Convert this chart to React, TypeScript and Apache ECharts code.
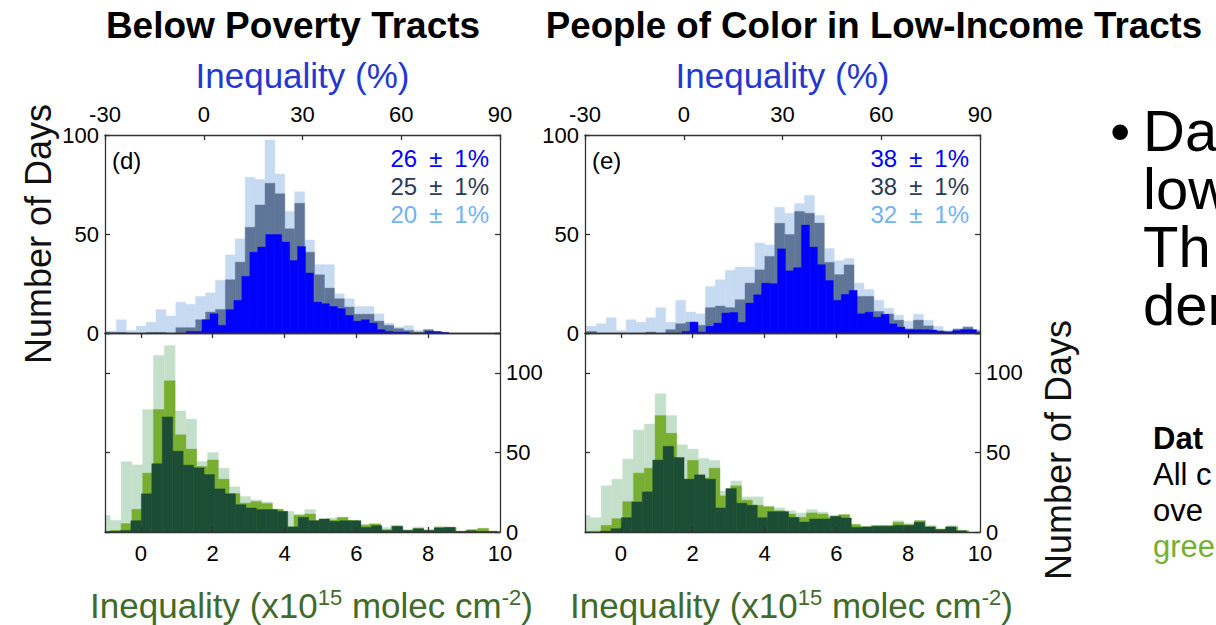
import React, { useEffect, useRef } from "react";
import * as echarts from "echarts";

// ---------------- data ----------------
// top histograms: inequality in percent
const pctTicks = [-30, 0, 30, 60, 90];
const countTicksTop = [0, 50, 100];
// bins used by the light-blue and slate series
const pctBinStart = -29.55;
const pctBinWidth = 3.01;
// bins used by the blue series
const pctBlueBinStart = -5.35;
const pctBlueBinWidth = 2.418;

const dTopLight = [1.0, 6.7, 1.3, 3.5, 5.5, 11.8, 8.6, 15.6, 14.5, 18.5, 20.3, 26.6, 39.5, 47.6, 78.7, 77.5, 97.5, 80.3, 61.5, 71.4, 47, 34.5, 34.5, 19.8, 17.3, 13.4, 13.4, 9.7, 5, 3, 3.7, 1.3, 1.3, 0.5, 0, 0, 0, 0, 0, 0];
const dTopSlate = [0.3, 0.3, 0, 0, 0.3, 0.3, 0, 2.7, 2.7, 6.7, 10.6, 11.9, 26.9, 35.8, 53.4, 64.7, 75.6, 70.3, 52.6, 65.5, 40.8, 29.4, 22.7, 17.3, 13.1, 9.5, 9.5, 6, 3.9, 2.2, 1.3, 0.5, 1.7, 0.5, 0, 0, 0, 0, 0, 0];
const dTopBlue = [0.8, 0.8, 6.7, 9.7, 3.9, 11.8, 16.5, 28.6, 40.8, 43.4, 49.7, 49.7, 45.9, 36.6, 43.7, 30.3, 15.6, 14.8, 13.4, 12.3, 8.9, 6.0, 6.7, 5.0, 1.7, 0.8, 0.5, 0.5, 0, 0, 0.8, 0.8, 0.3, 0, 0, 0, 0, 0, 0];

const eTopLight = [3.5, 4.7, 7.7, 1.3, 6.7, 5.5, 7.7, 12.8, 5.5, 16.5, 10.6, 9.7, 23.5, 26.9, 31.6, 33.3, 33.3, 45.4, 44.5, 63.5, 60.5, 65.4, 69.4, 59.3, 42.7, 36.5, 37.6, 25.2, 22, 16.5, 12.5, 9, 6, 9.5, 6.5, 3.4, 1.3, 2.1, 3.4, 1.7];
const eTopSlate = [0.8, 0, 0, 0, 0, 0, 0.5, 0, 1.7, 4.7, 5.5, 3.9, 12.8, 13.6, 12.8, 16.8, 25.2, 31.9, 38.7, 55.4, 49.8, 61.4, 60.5, 55.5, 35.7, 29.5, 34.4, 18.5, 18.5, 10.9, 9.6, 6.5, 2.1, 6.5, 3.6, 1.2, 0.8, 2, 2.9, 1];
const eTopBlue = [0, 0, 0.8, 5.5, 0.5, 3.4, 5, 10.1, 10.4, 5.4, 15.1, 19.3, 25.2, 24.9, 42.5, 31.4, 33, 54.5, 43.4, 34.5, 26.5, 16.5, 19.5, 21.5, 9.7, 10.5, 8, 9.4, 4.6, 3, 1.7, 1.7, 1.7, 1.5, 0.8, 0.5, 1.2, 1.7, 1.7];

const dLegend = ["26\u2002\u00b1\u20021%", "25\u2002\u00b1\u20021%", "20\u2002\u00b1\u20021%"];
const eLegend = ["38\u2002\u00b1\u20021%", "38\u2002\u00b1\u20021%", "32\u2002\u00b1\u20021%"];

// bottom histograms: inequality in 10^15 molec cm^-2
const absTickLabels = [0, 2, 4, 6, 8, 10];
const absInnerTicks = [0, 2, 4, 6, 8];
const countTicksBottom = [0, 50, 100];
// bins used by the light and medium green series
const absBinStart = -1.155;
const absBinWidth = 0.301;
// bins used by the dark green series
const absDarkBinStart = -1.153;
const absDarkBinWidth = 0.2912;

const dBotLight = [10.5, 7.4, 44.1, 42.2, 76.9, 110.9, 117.2, 76, 71, 44.3, 50, 40.1, 28.4, 22.3, 20.2, 18.9, 14.3, 13, 11.2, 14.1, 7.1, 8.8, 9.2, 7.1, 5, 5.3, 2.9, 4.2, 1.5, 3.2, 1.5, 2.9, 2.9, 0.4, 1, 1.9, 0.4];
const dBotMedium = [0.4, 1, 5.3, 14.3, 37, 76.9, 95, 61.1, 52.1, 41.2, 45.2, 33.2, 24.2, 18.1, 19.1, 17.9, 14.3, 3.2, 10.5, 11.3, 7.1, 7.5, 9.2, 7.1, 4.2, 5, 1.5, 3.6, 1, 2.1, 1, 3.2, 2.9, 0.4, 1.5, 2.3, 0.4];
const dBotDark = [0.3, 0.5, 1, 7.1, 24, 42.9, 72.3, 50.8, 42, 40.3, 36.1, 27.1, 24, 17.2, 15.1, 14.1, 14.1, 13, 3.2, 9.2, 7.1, 8.2, 6.7, 7.1, 7.1, 2.9, 4, 1, 3.6, 1, 2.1, 1, 2.5, 2.9, 0.4, 0.8, 0.4, 0.4];

const eBotLight = [10.5, 9, 29, 33.2, 45.8, 64.1, 67.9, 86.8, 73.1, 54.8, 52.1, 46.2, 45, 25.8, 32.1, 22.1, 22.1, 16.3, 15.2, 13.4, 12, 14.1, 12.6, 10.5, 10.9, 5, 3.6, 4.2, 4.2, 7.1, 5.3, 7.1, 4.2, 1.9, 4, 1, 0];
const eBotMedium = [0.4, 0.6, 4.2, 8.4, 19.1, 37, 40.1, 73.1, 62, 33.2, 45, 34, 40.1, 22.7, 29, 20, 16.8, 15.8, 13.4, 11.3, 9.2, 12, 11.3, 9.2, 10.9, 4.6, 3.2, 4, 4, 6.1, 4.6, 7.1, 3.2, 1.9, 3.2, 0.8, 0];
const eBotDark = [0, 0, 0.6, 2.1, 9, 18.9, 25.2, 45.2, 53.8, 46.8, 33.2, 35.9, 33.2, 15.1, 27.3, 18.1, 16.8, 9, 12.8, 12.8, 9.2, 6.3, 8.2, 8.2, 9.9, 8.8, 2.9, 3.2, 3.6, 3.6, 4.2, 4.2, 6.1, 3.2, 1.5, 3.2, 0.8, 0];

// slide text on the right
const slideBulletLines = ["Da", "low", "Th", "der"];
const slideNoteLines = ["Dat", "All c", "ove", "gree"];

// ---------------- styles ----------------
const FONT = '"Liberation Sans", Arial, Helvetica, sans-serif';
const C_LIGHT_BLUE = "#c6daf2";
const C_SLATE = "#607699";
const C_BLUE = "#0000ff";
const C_LIGHT_GREEN = "#c4e0cb";
const C_MED_GREEN = "#78ae31";
const C_DARK_GREEN = "#1c4e36";
const C_FRAME = "#333333";
const C_TOP_TITLE = "#2438d0";
const C_BOT_TITLE = "#416a2b";

const frameLine = { lineStyle: { color: C_FRAME, width: 1.3 } };

function histSeries(
  xAxisIndex: number,
  yAxisIndex: number,
  start: number,
  width: number,
  values: number[],
  color: string,
  xmin: number,
  xmax: number
) {
  const data = values.map((v, i) => [start + i * width, start + (i + 1) * width, v]);
  return {
    type: "custom",
    xAxisIndex,
    yAxisIndex,
    data,
    encode: { x: [0, 1], y: 2 },
    silent: true,
    renderItem: (params: any, api: any) => {
      const x0 = Math.max(api.value(0), xmin);
      const x1 = Math.min(api.value(1), xmax);
      const v = api.value(2);
      if (x1 <= x0 || v <= 0) return null;
      const p0 = api.coord([x0, v]);
      const p1 = api.coord([x1, 0]);
      return {
        type: "rect",
        shape: { x: p0[0], y: p0[1], width: p1[0] - p0[0], height: p1[1] - p0[1] },
        style: { fill: color, stroke: color, lineWidth: 0.4 },
      };
    },
  };
}

function pctTopAxis(gridIndex: number) {
  return {
    gridIndex,
    type: "value",
    position: "top",
    min: pctTicks[0],
    max: pctTicks[pctTicks.length - 1],
    interval: 30,
    name: "Inequality (%)",
    nameLocation: "middle",
    nameGap: 42,
    nameTextStyle: { color: C_TOP_TITLE, fontSize: 35, fontFamily: FONT },
    axisLine: { show: true, onZero: false, ...frameLine },
    axisTick: { show: true, inside: true, length: 5, ...frameLine },
    axisLabel: { show: true, fontSize: 22, color: "#000", margin: 10, fontFamily: FONT },
    splitLine: { show: false },
    z: 5,
  };
}

function pctBottomFrame(gridIndex: number) {
  return {
    gridIndex,
    type: "value",
    position: "bottom",
    min: pctTicks[0],
    max: pctTicks[pctTicks.length - 1],
    interval: 30,
    axisLine: { show: true, onZero: false, ...frameLine },
    axisTick: { show: false },
    axisLabel: { show: false },
    splitLine: { show: false },
    z: 5,
  };
}

function absTopFrame(gridIndex: number) {
  return {
    gridIndex,
    type: "value",
    position: "top",
    min: -1,
    max: 10,
    axisLine: { show: true, onZero: false, ...frameLine },
    axisTick: { show: true, inside: true, length: 5, customValues: absInnerTicks, ...frameLine },
    axisLabel: { show: false },
    splitLine: { show: false },
    z: 5,
  };
}

function absBottomAxis(gridIndex: number) {
  return {
    gridIndex,
    type: "value",
    position: "bottom",
    min: -1,
    max: 10,
    name: "{a|Inequality (x10}{s|15}{a| molec cm}{s|-2}{a|)}",
    nameLocation: "middle",
    nameGap: 54,
    nameTextStyle: {
      color: C_BOT_TITLE,
      padding: [0, 0, 0, 18],
      rich: {
        a: { fontSize: 35, fontFamily: FONT, color: C_BOT_TITLE },
        s: { fontSize: 22, fontFamily: FONT, color: C_BOT_TITLE, padding: [0, 0, 16, 0] },
      },
    },
    axisLine: { show: true, onZero: false, ...frameLine },
    axisTick: { show: true, inside: true, length: 5, customValues: absInnerTicks, ...frameLine },
    axisLabel: { show: true, customValues: absTickLabels, fontSize: 22, color: "#000", margin: 10, fontFamily: FONT },
    splitLine: { show: false },
    z: 5,
  };
}

function countAxis(gridIndex: number, position: string, max: number, showLabels: boolean, extra: any = {}) {
  return {
    gridIndex,
    type: "value",
    position,
    min: 0,
    max,
    interval: 50,
    axisLine: { show: true, onZero: false, ...frameLine },
    axisTick: { show: true, inside: true, length: 5, ...frameLine },
    axisLabel: {
      show: showLabels,
      fontSize: 22,
      color: "#000",
      margin: 6,
      fontFamily: FONT,
      formatter: (v: number) => (countTicksTop.includes(v) || countTicksBottom.includes(v) ? String(v) : ""),
    },
    splitLine: { show: false },
    z: 5,
    ...extra,
  };
}

function legendTexts(lines: string[], right: number) {
  const colors = [C_BLUE, "#2c3a57", "#72b2f2"];
  return lines.map((t, i) => ({
    type: "text",
    x: right,
    y: 158 + i * 28,
    z: 10,
    style: { text: t, fill: colors[i], font: `24px ${FONT}`, align: "right", verticalAlign: "middle", lineHeight: 26 },
  }));
}

function buildOption() {
  const grids = [
    { left: 105, top: 135, width: 395, height: 198, outerBoundsMode: "none" },
    { left: 105, top: 333, width: 395, height: 199, outerBoundsMode: "none" },
    { left: 585, top: 135, width: 395, height: 198, outerBoundsMode: "none" },
    { left: 585, top: 333, width: 395, height: 199, outerBoundsMode: "none" },
  ];
  const xAxis = [
    pctTopAxis(0), // 0
    pctBottomFrame(0), // 1
    absTopFrame(1), // 2
    absBottomAxis(1), // 3
    pctTopAxis(2), // 4
    pctBottomFrame(2), // 5
    absTopFrame(3), // 6
    absBottomAxis(3), // 7
  ];
  const yAxis = [
    countAxis(0, "left", 100, true, {
      name: "Number of Days",
      nameLocation: "middle",
      nameRotate: 90,
      nameGap: 49,
      nameTextStyle: { color: "#111", fontSize: 36, fontFamily: FONT, padding: [0, 0, 0, 0] },
    }), // 0
    countAxis(0, "right", 100, false), // 1
    countAxis(1, "left", 125, false), // 2
    countAxis(1, "right", 125, true), // 3
    countAxis(2, "left", 100, true), // 4
    countAxis(2, "right", 100, false), // 5
    countAxis(3, "left", 125, false), // 6
    countAxis(3, "right", 125, true), // 7
  ];

  const series = [
    histSeries(0, 0, pctBinStart, pctBinWidth, dTopLight, C_LIGHT_BLUE, -30, 90),
    histSeries(0, 0, pctBinStart, pctBinWidth, dTopSlate, C_SLATE, -30, 90),
    histSeries(0, 0, pctBlueBinStart, pctBlueBinWidth, dTopBlue, C_BLUE, -30, 90),
    histSeries(4, 4, pctBinStart, pctBinWidth, eTopLight, C_LIGHT_BLUE, -30, 90),
    histSeries(4, 4, pctBinStart, pctBinWidth, eTopSlate, C_SLATE, -30, 90),
    histSeries(4, 4, pctBlueBinStart, pctBlueBinWidth, eTopBlue, C_BLUE, -30, 90),
    histSeries(3, 3, absBinStart, absBinWidth, dBotLight, C_LIGHT_GREEN, -1, 10),
    histSeries(3, 3, absBinStart, absBinWidth, dBotMedium, C_MED_GREEN, -1, 10),
    histSeries(3, 3, absDarkBinStart, absDarkBinWidth, dBotDark, C_DARK_GREEN, -1, 10),
    histSeries(7, 7, absBinStart, absBinWidth, eBotLight, C_LIGHT_GREEN, -1, 10),
    histSeries(7, 7, absBinStart, absBinWidth, eBotMedium, C_MED_GREEN, -1, 10),
    histSeries(7, 7, absDarkBinStart, absDarkBinWidth, eBotDark, C_DARK_GREEN, -1, 10),
  ];

  const graphic: any[] = [
    {
      type: "text",
      x: 293,
      y: 25,
      style: { text: "Below Poverty Tracts", fill: "#000", font: `bold 37px ${FONT}`, align: "center", verticalAlign: "middle" },
    },
    {
      type: "text",
      x: 874,
      y: 25,
      style: { text: "People of Color in Low-Income Tracts", fill: "#000", font: `bold 36.7px ${FONT}`, align: "center", verticalAlign: "middle" },
    },
    { type: "text", x: 112, y: 160, z: 10, style: { text: "(d)", fill: "#000", font: `24px ${FONT}`, align: "left", verticalAlign: "middle" } },
    { type: "text", x: 592, y: 160, z: 10, style: { text: "(e)", fill: "#000", font: `24px ${FONT}`, align: "left", verticalAlign: "middle" } },
    ...legendTexts(dLegend, 489),
    ...legendTexts(eLegend, 969),
    {
      type: "text",
      x: 1058,
      y: 450,
      rotation: Math.PI / 2,
      style: { text: "Number of Days", fill: "#111", font: `36px ${FONT}`, align: "center", verticalAlign: "middle" },
    },
    {
      type: "text",
      x: 1110,
      y: 130,
      style: { text: "\u2022", fill: "#000", font: `58px ${FONT}`, align: "left", verticalAlign: "middle", lineHeight: 54 },
    },
    ...slideBulletLines.map((t, i) => ({
      type: "text",
      x: 1143,
      y: 130 + i * 58,
      style: { text: t, fill: "#000", font: `58px ${FONT}`, align: "left", verticalAlign: "middle", lineHeight: 54 },
    })),
    ...slideNoteLines.map((t, i) => ({
      type: "text",
      x: 1153,
      y: 438 + i * 36,
      style: {
        text: t,
        fill: i === 3 ? C_MED_GREEN : "#000",
        font: `${i === 0 ? "bold " : ""}31px ${FONT}`,
        align: "left",
        verticalAlign: "middle",
        lineHeight: 34,
      },
    })),
  ];

  return {
    animation: false,
    backgroundColor: "#ffffff",
    grid: grids,
    xAxis,
    yAxis,
    series,
    graphic,
  };
}

export default function App() {
  const ref = useRef<HTMLDivElement>(null);
  useEffect(() => {
    if (!ref.current) return;
    const chart = echarts.init(ref.current, null, { renderer: "svg", width: 1216, height: 625 });
    chart.setOption(buildOption() as any);
    return () => chart.dispose();
  }, []);
  return <div ref={ref} style={{ position: "absolute", left: 0, top: 0, width: 1216, height: 625 }} />;
}
